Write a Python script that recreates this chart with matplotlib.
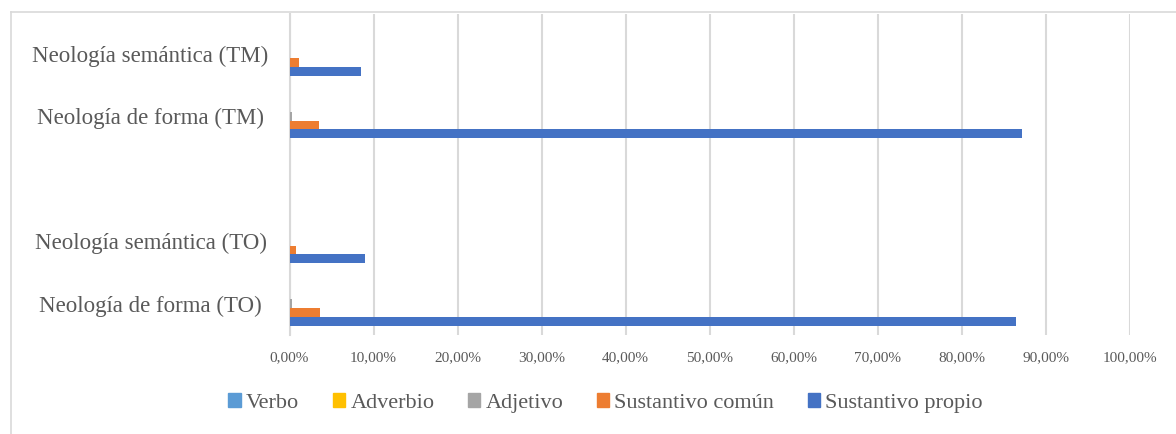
import numpy as np
import matplotlib
matplotlib.use("Agg")
import matplotlib.pyplot as plt
from matplotlib.ticker import FuncFormatter
from matplotlib.lines import Line2D
from matplotlib.patches import Patch

# categories from bottom to top (one empty slot between TO and TM)
categories = ["Neología de forma (TO)", "Neología semántica (TO)", "",
              "Neología de forma (TM)", "Neología semántica (TM)"]
series = ["Verbo", "Adverbio", "Adjetivo", "Sustantivo común", "Sustantivo propio"]
colors = ["#5B9BD5", "#FFC000", "#A5A5A5", "#ED7D31", "#4472C4"]

verbo = [0.0, 0.0, np.nan, 0.0, 0.0]
adverbio = [0.0, 0.0, np.nan, 0.0, 0.0]
adjetivo = [0.30, 0.0, np.nan, 0.33, 0.0]
sust_comun = [3.67, 0.74, np.nan, 3.48, 1.10]
sust_propio = [86.45, 8.95, np.nan, 87.2, 8.48]
values = [verbo, adverbio, adjetivo, sust_comun, sust_propio]
xticks = np.arange(0, 101, 10)

fig = plt.figure(figsize=(11.76, 4.34), dpi=100)
ax = fig.add_axes([289.5/1176, 1-335/434, (1130-289.5)/1176, (335-14)/434])

y = np.arange(len(categories))
h = 0.141
for i, (name, vals, col) in enumerate(zip(series, values, colors)):
    off = (2 - i) * h
    ax.barh(y + off, vals, height=h, color=col, label=name, zorder=3)

ax.set_xlim(0, 100)
ax.set_ylim(-0.5, -0.5 + 321/62.5)
ax.set_xticks(xticks)
ax.xaxis.set_major_formatter(FuncFormatter(lambda v, p: f"{v:.2f}".replace(".", ",") + "%"))
ax.grid(axis="x", color="#d9d9d9", lw=1.5, zorder=0)
ax.set_yticks(y)
ax.set_yticklabels(categories, fontsize=16.5, family="Liberation Serif", color="#595959", ha="center")
ax.tick_params(axis="y", length=0, pad=100)
ax.tick_params(axis="x", length=0, pad=12, labelsize=11, labelcolor="#595959")
for lab in ax.get_xticklabels():
    lab.set_family("Liberation Serif")
for s in ["top", "right", "bottom"]:
    ax.spines[s].set_visible(False)
ax.spines["left"].set_color("#d9d9d9")
ax.spines["left"].set_linewidth(1.5)

handles = [Patch(color=c, label=n) for n, c in zip(series, colors)]
leg = fig.legend(handles=handles, loc="center", bbox_to_anchor=(0.515, 1-403/434), ncol=5,
                 frameon=False, prop={"family": "Liberation Serif", "size": 16},
                 handlelength=0.55, handleheight=0.55, handletextpad=0.25, columnspacing=1.5)
for t in leg.get_texts():
    t.set_color("#595959")

# chart area border
fig.add_artist(Line2D([11/1176, 11/1176], [0, 1-12/434], color="#d9d9d9", lw=1.2))
fig.add_artist(Line2D([11/1176, 1], [1-12/434, 1-12/434], color="#d9d9d9", lw=1.2))

fig.savefig("out.png", dpi=100)
